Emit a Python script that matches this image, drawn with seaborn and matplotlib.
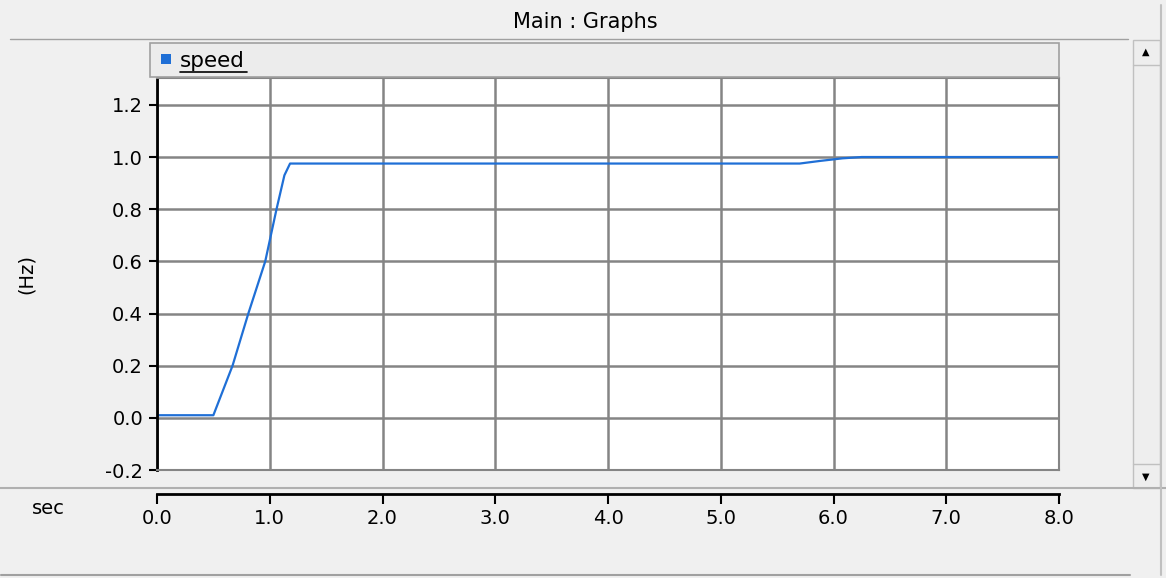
import numpy as np
import pandas as pd
import matplotlib
matplotlib.use('Agg')
import matplotlib.pyplot as plt
from matplotlib.patches import Rectangle
from matplotlib.lines import Line2D
import seaborn as sns

# values
time_s = [0.0, 0.50, 0.67, 0.81, 0.96, 1.06, 1.13, 1.18, 3.0, 5.70, 5.88, 6.08, 6.25, 8.0]
speed_hz = [0.01, 0.01, 0.20, 0.40, 0.60, 0.80, 0.93, 0.975, 0.975, 0.975, 0.985, 0.995, 1.0, 1.0]
x_ticks = [0, 1, 2, 3, 4, 5, 6, 7, 8]
y_ticks = [-0.2, 0.0, 0.2, 0.4, 0.6, 0.8, 1.0, 1.2]

df = pd.DataFrame({'sec': time_s, 'speed': speed_hz})

sns.set_style('white')
plt.rcParams['font.family'] = ['DejaVu Sans']
plt.rcParams['text.color'] = 'black'
plt.rcParams['xtick.color'] = 'black'
plt.rcParams['ytick.color'] = 'black'
plt.rcParams['axes.labelcolor'] = 'black'

W, H = 1166, 578
fig = plt.figure(figsize=(W / 100, H / 100), dpi=100, facecolor='#f0f0f0')

def box(x0, y0, x1, y1):
    # pixel box (top-left origin) -> figure fraction
    return [x0 / W, 1 - y1 / H, (x1 - x0) / W, (y1 - y0) / H]

grid_col = '#858585'

# main plot
ax = fig.add_axes(box(157, 78, 1059, 470))
sns.lineplot(data=df, x='sec', y='speed', ax=ax, color='#1f6fd6', linewidth=1.6)
ax.set_xlim(0, 8)
ax.set_ylim(-0.2, 1.303)
ax.set_xticks(x_ticks)
ax.set_yticks(y_ticks)
ax.set_yticklabels([f'{v:.1f}' for v in y_ticks], fontsize=14)
ax.tick_params(axis='x', bottom=False, labelbottom=False)
ax.tick_params(axis='y', left=True, direction='out', length=6, width=1.5, color='black', pad=4)
ax.grid(True, color=grid_col, linewidth=1.8)
ax.set_axisbelow(True)
ax.set_xlabel('')
ax.set_ylabel('(Hz)', fontsize=14, labelpad=50)
for side in ['top', 'right', 'bottom']:
    ax.spines[side].set_color(grid_col)
    ax.spines[side].set_linewidth(1.5)
ax.spines['left'].set_color('black')
ax.spines['left'].set_linewidth(2)
ax.set_facecolor('white')

# separate time axis below
axx = fig.add_axes(box(157, 493, 1059, 494))
axx.set_xlim(0, 8)
axx.set_xticks(x_ticks)
axx.set_xticklabels([f'{v:.1f}' for v in x_ticks], fontsize=14)
axx.set_yticks([])
axx.tick_params(axis='x', bottom=True, direction='out', length=7, width=1.5, color='black', pad=4)
axx.patch.set_alpha(0)
for side in ['top', 'right', 'left']:
    axx.spines[side].set_visible(False)
axx.spines['bottom'].set_color('black')
axx.spines['bottom'].set_linewidth(2)
fig.text(48 / W, 1 - 508 / H, 'sec', fontsize=14, ha='center', va='center')

# window chrome: title bar
fig.text(585 / W, 1 - 22 / H, 'Main : Graphs', fontsize=15, ha='center', va='center')
fig.add_artist(Line2D([10 / W, 1128 / W], [1 - 39 / H, 1 - 39 / H], color='#a0a0a0', linewidth=1))
fig.add_artist(Line2D([0, 1], [1 - 488 / H, 1 - 488 / H], color='#b0b0b0', linewidth=1.5))
fig.add_artist(Line2D([1 / W, 1130 / W], [1 - 575 / H, 1 - 575 / H], color='#a0a0a0', linewidth=1.5))

# legend bar
b = box(150, 43, 1059, 77)
fig.add_artist(Rectangle((b[0], b[1]), b[2], b[3], transform=fig.transFigure,
                         facecolor='#ececec', edgecolor='#a0a0a0', linewidth=1.2))
s = box(161, 54, 171, 64)
fig.add_artist(Rectangle((s[0], s[1]), s[2], s[3], transform=fig.transFigure,
                         facecolor='#1f6fd6', edgecolor='none'))
fig.text(180 / W, 1 - 61 / H, 'speed', fontsize=15.5, ha='left', va='center')
fig.add_artist(Line2D([180 / W, 247 / W], [1 - 72 / H, 1 - 72 / H], color='black', linewidth=1.2))

# scrollbar
sb = box(1133, 40, 1160, 488)
fig.add_artist(Rectangle((sb[0], sb[1]), sb[2], sb[3], transform=fig.transFigure,
                         facecolor='#eeeeee', edgecolor='#c0c0c0', linewidth=1))
fig.add_artist(Line2D([1133 / W, 1160 / W], [1 - 65 / H, 1 - 65 / H], color='#c0c0c0', linewidth=1))
fig.add_artist(Line2D([1133 / W, 1160 / W], [1 - 464 / H, 1 - 464 / H], color='#c0c0c0', linewidth=1))
fig.text(1146 / W, 1 - 52 / H, '▲', fontsize=7, ha='center', va='center')
fig.text(1146 / W, 1 - 477 / H, '▼', fontsize=7, ha='center', va='center')
fig.add_artist(Line2D([1161 / W, 1161 / W], [1 - 575 / H, 1 - 5 / H], color='#c0c0c0', linewidth=1.5))

fig.savefig('out.png', dpi=100, facecolor=fig.get_facecolor())
